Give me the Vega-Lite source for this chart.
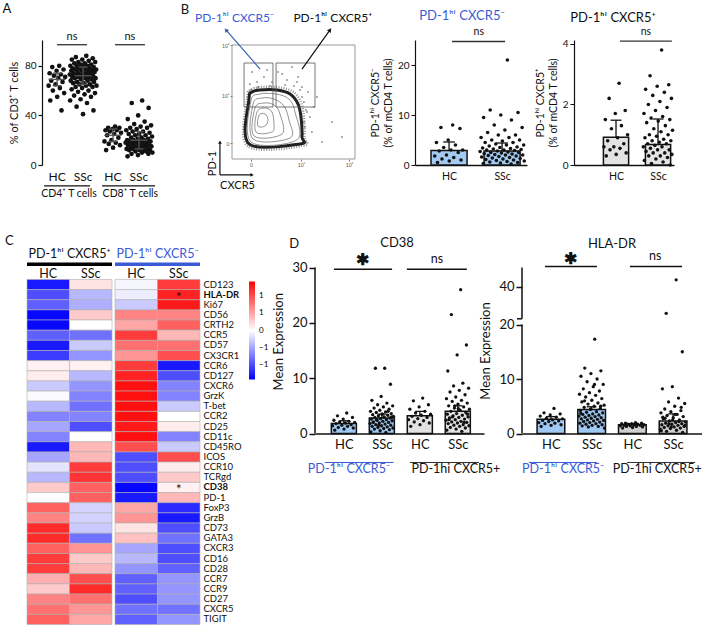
{
"$schema":"https://vega.github.io/schema/vega-lite/v6.json",
"padding":{"left":2,"top":2,"right":0,"bottom":0},
"config":{"font":"Lato","view":{"stroke":null},
 "axis":{"grid":false,"labelColor":"#111","titleColor":"#111","domainColor":"#111","tickColor":"#111","titleFontWeight":"normal","labelFont":"Lato","titleFont":"Lato"},
 "text":{"font":"Lato","color":"#111"},"legend":{"labelFont":"Lato"}},
"datasets":{
"a":[{"t":"4","g":"HC","v":80},{"t":"4","g":"HC","v":79},{"t":"4","g":"HC","v":77},{"t":"4","g":"HC","v":76},{"t":"4","g":"HC","v":74},{"t":"4","g":"HC","v":73},{"t":"4","g":"HC","v":72},{"t":"4","g":"HC","v":71},{"t":"4","g":"HC","v":70},{"t":"4","g":"HC","v":68},{"t":"4","g":"HC","v":67},{"t":"4","g":"HC","v":65},{"t":"4","g":"HC","v":64},{"t":"4","g":"HC","v":62},{"t":"4","g":"HC","v":60},{"t":"4","g":"HC","v":58},{"t":"4","g":"HC","v":55},{"t":"4","g":"HC","v":52},{"t":"4","g":"HC","v":44},
{"t":"4","g":"SSc","v":88},{"t":"4","g":"SSc","v":87},{"t":"4","g":"SSc","v":86},{"t":"4","g":"SSc","v":85},{"t":"4","g":"SSc","v":85},{"t":"4","g":"SSc","v":84},{"t":"4","g":"SSc","v":83},{"t":"4","g":"SSc","v":83},{"t":"4","g":"SSc","v":82},{"t":"4","g":"SSc","v":82},{"t":"4","g":"SSc","v":81},{"t":"4","g":"SSc","v":81},{"t":"4","g":"SSc","v":80},{"t":"4","g":"SSc","v":80},{"t":"4","g":"SSc","v":80},{"t":"4","g":"SSc","v":79},{"t":"4","g":"SSc","v":79},{"t":"4","g":"SSc","v":78},{"t":"4","g":"SSc","v":78},{"t":"4","g":"SSc","v":78},{"t":"4","g":"SSc","v":77},{"t":"4","g":"SSc","v":77},{"t":"4","g":"SSc","v":77},{"t":"4","g":"SSc","v":76},{"t":"4","g":"SSc","v":76},{"t":"4","g":"SSc","v":76},{"t":"4","g":"SSc","v":75},{"t":"4","g":"SSc","v":75},{"t":"4","g":"SSc","v":75},{"t":"4","g":"SSc","v":74},{"t":"4","g":"SSc","v":74},{"t":"4","g":"SSc","v":74},{"t":"4","g":"SSc","v":73},{"t":"4","g":"SSc","v":73},{"t":"4","g":"SSc","v":73},{"t":"4","g":"SSc","v":72},{"t":"4","g":"SSc","v":72},{"t":"4","g":"SSc","v":72},{"t":"4","g":"SSc","v":71},{"t":"4","g":"SSc","v":71},{"t":"4","g":"SSc","v":71},{"t":"4","g":"SSc","v":70},{"t":"4","g":"SSc","v":70},{"t":"4","g":"SSc","v":70},{"t":"4","g":"SSc","v":69},{"t":"4","g":"SSc","v":69},{"t":"4","g":"SSc","v":68},{"t":"4","g":"SSc","v":68},{"t":"4","g":"SSc","v":67},{"t":"4","g":"SSc","v":67},{"t":"4","g":"SSc","v":66},{"t":"4","g":"SSc","v":66},{"t":"4","g":"SSc","v":65},{"t":"4","g":"SSc","v":65},{"t":"4","g":"SSc","v":64},{"t":"4","g":"SSc","v":64},{"t":"4","g":"SSc","v":63},{"t":"4","g":"SSc","v":63},{"t":"4","g":"SSc","v":62},{"t":"4","g":"SSc","v":61},{"t":"4","g":"SSc","v":60},{"t":"4","g":"SSc","v":59},{"t":"4","g":"SSc","v":58},{"t":"4","g":"SSc","v":57},{"t":"4","g":"SSc","v":56},{"t":"4","g":"SSc","v":55},{"t":"4","g":"SSc","v":53},{"t":"4","g":"SSc","v":52},{"t":"4","g":"SSc","v":50},{"t":"4","g":"SSc","v":47},{"t":"4","g":"SSc","v":44},{"t":"4","g":"SSc","v":41},
{"t":"8","g":"HC","v":31},{"t":"8","g":"HC","v":30},{"t":"8","g":"HC","v":30},{"t":"8","g":"HC","v":29},{"t":"8","g":"HC","v":28},{"t":"8","g":"HC","v":28},{"t":"8","g":"HC","v":27},{"t":"8","g":"HC","v":26},{"t":"8","g":"HC","v":25},{"t":"8","g":"HC","v":24},{"t":"8","g":"HC","v":22},{"t":"8","g":"HC","v":20},{"t":"8","g":"HC","v":19},{"t":"8","g":"HC","v":18},{"t":"8","g":"HC","v":17},{"t":"8","g":"HC","v":16},{"t":"8","g":"HC","v":14},{"t":"8","g":"HC","v":12},
{"t":"8","g":"SSc","v":52},{"t":"8","g":"SSc","v":50},{"t":"8","g":"SSc","v":46},{"t":"8","g":"SSc","v":40},{"t":"8","g":"SSc","v":37},{"t":"8","g":"SSc","v":35},{"t":"8","g":"SSc","v":33},{"t":"8","g":"SSc","v":32},{"t":"8","g":"SSc","v":31},{"t":"8","g":"SSc","v":30},{"t":"8","g":"SSc","v":30},{"t":"8","g":"SSc","v":29},{"t":"8","g":"SSc","v":28},{"t":"8","g":"SSc","v":27},{"t":"8","g":"SSc","v":27},{"t":"8","g":"SSc","v":26},{"t":"8","g":"SSc","v":25},{"t":"8","g":"SSc","v":25},{"t":"8","g":"SSc","v":24},{"t":"8","g":"SSc","v":24},{"t":"8","g":"SSc","v":23},{"t":"8","g":"SSc","v":22},{"t":"8","g":"SSc","v":22},{"t":"8","g":"SSc","v":21},{"t":"8","g":"SSc","v":21},{"t":"8","g":"SSc","v":20},{"t":"8","g":"SSc","v":20},{"t":"8","g":"SSc","v":20},{"t":"8","g":"SSc","v":19},{"t":"8","g":"SSc","v":19},{"t":"8","g":"SSc","v":19},{"t":"8","g":"SSc","v":18},{"t":"8","g":"SSc","v":18},{"t":"8","g":"SSc","v":18},{"t":"8","g":"SSc","v":17},{"t":"8","g":"SSc","v":17},{"t":"8","g":"SSc","v":17},{"t":"8","g":"SSc","v":16},{"t":"8","g":"SSc","v":16},{"t":"8","g":"SSc","v":16},{"t":"8","g":"SSc","v":15},{"t":"8","g":"SSc","v":15},{"t":"8","g":"SSc","v":15},{"t":"8","g":"SSc","v":14},{"t":"8","g":"SSc","v":14},{"t":"8","g":"SSc","v":14},{"t":"8","g":"SSc","v":13},{"t":"8","g":"SSc","v":13},{"t":"8","g":"SSc","v":13},{"t":"8","g":"SSc","v":12},{"t":"8","g":"SSc","v":12},{"t":"8","g":"SSc","v":12},{"t":"8","g":"SSc","v":11},{"t":"8","g":"SSc","v":11},{"t":"8","g":"SSc","v":10},{"t":"8","g":"SSc","v":10},{"t":"8","g":"SSc","v":9},{"t":"8","g":"SSc","v":9},{"t":"8","g":"SSc","v":8},{"t":"8","g":"SSc","v":7}],
"as":[{"t":"4","g":"HC","m":69,"lo":64,"hi":74},{"t":"4","g":"SSc","m":72,"lo":65,"hi":79},{"t":"8","g":"HC","m":24,"lo":19,"hi":29},{"t":"8","g":"SSc","m":20,"lo":13,"hi":27}],
"b1":[{"g":"HC","v":8},{"g":"HC","v":7.5},{"g":"HC","v":7.3},{"g":"HC","v":5},{"g":"HC","v":4.5},{"g":"HC","v":4},{"g":"HC","v":3.5},{"g":"HC","v":3},{"g":"HC","v":3},{"g":"HC","v":2.8},{"g":"HC","v":2.5},{"g":"HC","v":2},{"g":"HC","v":1.8},{"g":"HC","v":1.5},{"g":"HC","v":1.2},{"g":"HC","v":1},{"g":"HC","v":0.8},{"g":"HC","v":0.5},
{"g":"SSc","v":21},{"g":"SSc","v":11},{"g":"SSc","v":10.5},{"g":"SSc","v":10},{"g":"SSc","v":9.5},{"g":"SSc","v":9},{"g":"SSc","v":8},{"g":"SSc","v":7.5},{"g":"SSc","v":7},{"g":"SSc","v":6.5},{"g":"SSc","v":6},{"g":"SSc","v":6},{"g":"SSc","v":5.5},{"g":"SSc","v":5.5},{"g":"SSc","v":5},{"g":"SSc","v":5},{"g":"SSc","v":4.8},{"g":"SSc","v":4.5},{"g":"SSc","v":4.5},{"g":"SSc","v":4.2},{"g":"SSc","v":4},{"g":"SSc","v":4},{"g":"SSc","v":3.8},{"g":"SSc","v":3.6},{"g":"SSc","v":3.5},{"g":"SSc","v":3.4},{"g":"SSc","v":3.3},{"g":"SSc","v":3.2},{"g":"SSc","v":3.1},{"g":"SSc","v":3},{"g":"SSc","v":3},{"g":"SSc","v":2.9},{"g":"SSc","v":2.8},{"g":"SSc","v":2.7},{"g":"SSc","v":2.6},{"g":"SSc","v":2.5},{"g":"SSc","v":2.5},{"g":"SSc","v":2.4},{"g":"SSc","v":2.3},{"g":"SSc","v":2.2},{"g":"SSc","v":2.1},{"g":"SSc","v":2},{"g":"SSc","v":2},{"g":"SSc","v":1.9},{"g":"SSc","v":1.8},{"g":"SSc","v":1.7},{"g":"SSc","v":1.6},{"g":"SSc","v":1.5},{"g":"SSc","v":1.4},{"g":"SSc","v":1.3},{"g":"SSc","v":1.2},{"g":"SSc","v":1.1},{"g":"SSc","v":1},{"g":"SSc","v":0.9},{"g":"SSc","v":0.8},{"g":"SSc","v":0.7},{"g":"SSc","v":0.6},{"g":"SSc","v":0.5},{"g":"SSc","v":0.4},{"g":"SSc","v":0.3},{"g":"SSc","v":0.2}],
"b1s":[{"g":"HC","m":2.9,"hi":4.6},{"g":"SSc","m":2.8,"hi":4.4}],
"b2":[{"g":"HC","v":2.7},{"g":"HC","v":2.2},{"g":"HC","v":1.8},{"g":"HC","v":1.7},{"g":"HC","v":1.5},{"g":"HC","v":1.3},{"g":"HC","v":1.2},{"g":"HC","v":1.0},{"g":"HC","v":0.9},{"g":"HC","v":0.8},{"g":"HC","v":0.7},{"g":"HC","v":0.6},{"g":"HC","v":0.6},{"g":"HC","v":0.55},{"g":"HC","v":0.5},{"g":"HC","v":0.4},{"g":"HC","v":0.35},{"g":"HC","v":0.3},
{"g":"SSc","v":3.8},{"g":"SSc","v":2.95},{"g":"SSc","v":2.65},{"g":"SSc","v":2.6},{"g":"SSc","v":2.5},{"g":"SSc","v":2.4},{"g":"SSc","v":2.3},{"g":"SSc","v":2.2},{"g":"SSc","v":2.1},{"g":"SSc","v":2.0},{"g":"SSc","v":1.9},{"g":"SSc","v":1.8},{"g":"SSc","v":1.7},{"g":"SSc","v":1.6},{"g":"SSc","v":1.55},{"g":"SSc","v":1.5},{"g":"SSc","v":1.45},{"g":"SSc","v":1.4},{"g":"SSc","v":1.3},{"g":"SSc","v":1.2},{"g":"SSc","v":1.15},{"g":"SSc","v":1.1},{"g":"SSc","v":1.0},{"g":"SSc","v":1.0},{"g":"SSc","v":0.95},{"g":"SSc","v":0.9},{"g":"SSc","v":0.85},{"g":"SSc","v":0.8},{"g":"SSc","v":0.8},{"g":"SSc","v":0.75},{"g":"SSc","v":0.7},{"g":"SSc","v":0.7},{"g":"SSc","v":0.65},{"g":"SSc","v":0.6},{"g":"SSc","v":0.6},{"g":"SSc","v":0.55},{"g":"SSc","v":0.5},{"g":"SSc","v":0.5},{"g":"SSc","v":0.45},{"g":"SSc","v":0.4},{"g":"SSc","v":0.4},{"g":"SSc","v":0.35},{"g":"SSc","v":0.3},{"g":"SSc","v":0.3},{"g":"SSc","v":0.25},{"g":"SSc","v":0.2},{"g":"SSc","v":0.15},{"g":"SSc","v":0.1},{"g":"SSc","v":0.05},{"g":"SSc","v":0.0}],
"b2s":[{"g":"HC","m":0.92,"hi":1.48},{"g":"SSc","m":0.68,"hi":1.52}],
"fc":[{"c":"0","o":1,"x":13.8,"y":13.2},{"c":"0","o":2,"x":13.8,"y":52.6},{"c":"0","o":3,"x":16.3,"y":58.8},{"c":"0","o":4,"x":22.8,"y":60.5},{"c":"0","o":5,"x":36.6,"y":60.5},{"c":"0","o":6,"x":47.2,"y":57.0},{"c":"0","o":7,"x":53.7,"y":48.2},{"c":"0","o":8,"x":56.1,"y":36.8},{"c":"0","o":9,"x":56.9,"y":19.3},{"c":"0","o":10,"x":55.3,"y":13.2},
{"c":"1","o":1,"x":15.4,"y":14.9},{"c":"1","o":2,"x":15.4,"y":50.9},{"c":"1","o":3,"x":22.8,"y":57.0},{"c":"1","o":4,"x":35.8,"y":57.0},{"c":"1","o":5,"x":46.3,"y":52.6},{"c":"1","o":6,"x":51.2,"y":41.2},{"c":"1","o":7,"x":52.8,"y":16.7},
{"c":"2","o":1,"x":17.1,"y":17.5},{"c":"2","o":2,"x":17.1,"y":48.2},{"c":"2","o":3,"x":24.4,"y":53.5},{"c":"2","o":4,"x":34.1,"y":52.6},{"c":"2","o":5,"x":42.3,"y":46.5},{"c":"2","o":6,"x":46.3,"y":34.2},{"c":"2","o":7,"x":47.2,"y":18.4},
{"c":"3","o":1,"x":17.9,"y":20.2},{"c":"3","o":2,"x":18.7,"y":44.7},{"c":"3","o":3,"x":26.0,"y":49.1},{"c":"3","o":4,"x":34.1,"y":47.4},{"c":"3","o":5,"x":39.0,"y":39.5},{"c":"3","o":6,"x":40.7,"y":21.9},
{"c":"4","o":1,"x":19.5,"y":23.7},{"c":"4","o":2,"x":20.3,"y":41.2},{"c":"4","o":3,"x":26.8,"y":44.7},{"c":"4","o":4,"x":32.5,"y":41.2},{"c":"4","o":5,"x":34.1,"y":30.7},{"c":"4","o":6,"x":32.5,"y":23.7},
{"c":"5","o":1,"x":21.1,"y":28.9},{"c":"5","o":2,"x":22.0,"y":38.6},{"c":"5","o":3,"x":26.8,"y":39.5},{"c":"5","o":4,"x":29.3,"y":34.2},{"c":"5","o":5,"x":26.8,"y":28.9},
{"c":"6","o":1,"x":12.5,"y":11.5},{"c":"6","o":2,"x":12.5,"y":54},{"c":"6","o":3,"x":15.5,"y":61},{"c":"6","o":4,"x":22.8,"y":63},{"c":"6","o":5,"x":37,"y":63},{"c":"6","o":6,"x":49,"y":59.5},{"c":"6","o":7,"x":56,"y":50},{"c":"6","o":8,"x":58.5,"y":37},{"c":"6","o":9,"x":59,"y":19},{"c":"6","o":10,"x":57.5,"y":11.5}],
"fd":[{"x":58.5,"y":50.0},{"x":61.0,"y":41.2},{"x":59.3,"y":28.1},{"x":61.8,"y":58.8},{"x":52.8,"y":67.5},{"x":44.7,"y":69.3},{"x":32.5,"y":67.5},{"x":26.0,"y":71.9},{"x":20.3,"y":67.5},{"x":16.3,"y":76.3},{"x":40.7,"y":74.6},{"x":56.9,"y":63.2},{"x":65.0,"y":23.7},{"x":73.2,"y":14.9},{"x":81.3,"y":32.5},{"x":89.4,"y":19.3},{"x":69.1,"y":54.4},{"x":48.8,"y":80.7},{"x":28.5,"y":78.1},{"x":14.6,"y":65.8},{"x":63.4,"y":36.8},{"x":60.2,"y":14.9},{"x":66.7,"y":45.6},{"x":53.7,"y":71.9},{"x":37.4,"y":76.3},{"x":56.9,"y":54.4},{"x":55.3,"y":60.5},{"x":50.4,"y":64.0},{"x":43.1,"y":64.9},{"x":30.9,"y":64.0},{"x":21.1,"y":63.2},{"x":15.4,"y":60.5},{"x":58.5,"y":32.5},{"x":57.7,"y":21.9},{"x":60.2,"y":43.0}],
"fg":[{"n":"neg","x1":9.8,"x2":33.3,"y1":45.6,"y2":84.2},{"n":"pos","x1":35.8,"x2":67.5,"y1":45.6,"y2":84.2}],
"hm":[
{"m":"CD123","c":"p","g":"HC","v":-1.3},{"m":"CD123","c":"p","g":"SSc","v":0.15},{"m":"CD123","c":"n","g":"HC","v":-0.05},{"m":"CD123","c":"n","g":"SSc","v":1.1},
{"m":"HLA-DR","c":"p","g":"HC","v":-1.0},{"m":"HLA-DR","c":"p","g":"SSc","v":-0.4},{"m":"HLA-DR","c":"n","g":"HC","v":-0.1},{"m":"HLA-DR","c":"n","g":"SSc","v":1.25,"s":"*"},
{"m":"Ki67","c":"p","g":"HC","v":-0.9},{"m":"Ki67","c":"p","g":"SSc","v":-0.45},{"m":"Ki67","c":"n","g":"HC","v":-0.3},{"m":"Ki67","c":"n","g":"SSc","v":1.3},
{"m":"CD56","c":"p","g":"HC","v":-1.4},{"m":"CD56","c":"p","g":"SSc","v":0.3},{"m":"CD56","c":"n","g":"HC","v":0.7},{"m":"CD56","c":"n","g":"SSc","v":0.7},
{"m":"CRTH2","c":"p","g":"HC","v":-1.4},{"m":"CRTH2","c":"p","g":"SSc","v":0.0},{"m":"CRTH2","c":"n","g":"HC","v":0.5},{"m":"CRTH2","c":"n","g":"SSc","v":0.9},
{"m":"CCR5","c":"p","g":"HC","v":-0.9},{"m":"CCR5","c":"p","g":"SSc","v":-0.8},{"m":"CCR5","c":"n","g":"HC","v":1.1},{"m":"CCR5","c":"n","g":"SSc","v":0.4},
{"m":"CD57","c":"p","g":"HC","v":-1.3},{"m":"CD57","c":"p","g":"SSc","v":-0.3},{"m":"CD57","c":"n","g":"HC","v":0.8},{"m":"CD57","c":"n","g":"SSc","v":0.8},
{"m":"CX3CR1","c":"p","g":"HC","v":-1.1},{"m":"CX3CR1","c":"p","g":"SSc","v":-0.6},{"m":"CX3CR1","c":"n","g":"HC","v":0.6},{"m":"CX3CR1","c":"n","g":"SSc","v":1.0},
{"m":"CCR6","c":"p","g":"HC","v":0.08},{"m":"CCR6","c":"p","g":"SSc","v":0.08},{"m":"CCR6","c":"n","g":"HC","v":1.1},{"m":"CCR6","c":"n","g":"SSc","v":-1.3},
{"m":"CD127","c":"p","g":"HC","v":0.1},{"m":"CD127","c":"p","g":"SSc","v":-0.4},{"m":"CD127","c":"n","g":"HC","v":1.25},{"m":"CD127","c":"n","g":"SSc","v":-1.0},
{"m":"CXCR6","c":"p","g":"HC","v":-0.3},{"m":"CXCR6","c":"p","g":"SSc","v":-0.6},{"m":"CXCR6","c":"n","g":"HC","v":1.35},{"m":"CXCR6","c":"n","g":"SSc","v":-0.7},
{"m":"GrzK","c":"p","g":"HC","v":-0.02},{"m":"GrzK","c":"p","g":"SSc","v":-0.7},{"m":"GrzK","c":"n","g":"HC","v":1.35},{"m":"GrzK","c":"n","g":"SSc","v":-0.7},
{"m":"T-bet","c":"p","g":"HC","v":-0.4},{"m":"T-bet","c":"p","g":"SSc","v":-0.8},{"m":"T-bet","c":"n","g":"HC","v":1.35},{"m":"T-bet","c":"n","g":"SSc","v":-0.3},
{"m":"CCR2","c":"p","g":"HC","v":-0.7},{"m":"CCR2","c":"p","g":"SSc","v":-0.7},{"m":"CCR2","c":"n","g":"HC","v":1.35},{"m":"CCR2","c":"n","g":"SSc","v":0.0},
{"m":"CD25","c":"p","g":"HC","v":-0.5},{"m":"CD25","c":"p","g":"SSc","v":-1.0},{"m":"CD25","c":"n","g":"HC","v":1.3},{"m":"CD25","c":"n","g":"SSc","v":0.1},
{"m":"CD11c","c":"p","g":"HC","v":-0.7},{"m":"CD11c","c":"p","g":"SSc","v":0.0},{"m":"CD11c","c":"n","g":"HC","v":1.35},{"m":"CD11c","c":"n","g":"SSc","v":-0.7},
{"m":"CD45RO","c":"p","g":"HC","v":-1.3},{"m":"CD45RO","c":"p","g":"SSc","v":0.4},{"m":"CD45RO","c":"n","g":"HC","v":1.0},{"m":"CD45RO","c":"n","g":"SSc","v":-0.3},
{"m":"ICOS","c":"p","g":"HC","v":-0.5},{"m":"ICOS","c":"p","g":"SSc","v":0.4},{"m":"ICOS","c":"n","g":"HC","v":-1.0},{"m":"ICOS","c":"n","g":"SSc","v":1.0},
{"m":"CCR10","c":"p","g":"HC","v":-0.15},{"m":"CCR10","c":"p","g":"SSc","v":1.1},{"m":"CCR10","c":"n","g":"HC","v":-1.0},{"m":"CCR10","c":"n","g":"SSc","v":0.1},
{"m":"TCRgd","c":"p","g":"HC","v":-0.4},{"m":"TCRgd","c":"p","g":"SSc","v":1.15},{"m":"TCRgd","c":"n","g":"HC","v":-1.0},{"m":"TCRgd","c":"n","g":"SSc","v":0.3},
{"m":"CD38","c":"p","g":"HC","v":0.3},{"m":"CD38","c":"p","g":"SSc","v":0.9},{"m":"CD38","c":"n","g":"HC","v":-1.4},{"m":"CD38","c":"n","g":"SSc","v":0.08,"s":"*"},
{"m":"PD-1","c":"p","g":"HC","v":0.0},{"m":"PD-1","c":"p","g":"SSc","v":0.9},{"m":"PD-1","c":"n","g":"HC","v":-1.3},{"m":"PD-1","c":"n","g":"SSc","v":0.4},
{"m":"FoxP3","c":"p","g":"HC","v":0.9},{"m":"FoxP3","c":"p","g":"SSc","v":-0.25},{"m":"FoxP3","c":"n","g":"HC","v":0.5},{"m":"FoxP3","c":"n","g":"SSc","v":-1.2},
{"m":"GrzB","c":"p","g":"HC","v":0.7},{"m":"GrzB","c":"p","g":"SSc","v":-0.25},{"m":"GrzB","c":"n","g":"HC","v":0.6},{"m":"GrzB","c":"n","g":"SSc","v":-1.3},
{"m":"CD73","c":"p","g":"HC","v":1.2},{"m":"CD73","c":"p","g":"SSc","v":-0.3},{"m":"CD73","c":"n","g":"HC","v":0.15},{"m":"CD73","c":"n","g":"SSc","v":-1.0},
{"m":"GATA3","c":"p","g":"HC","v":1.2},{"m":"GATA3","c":"p","g":"SSc","v":-0.8},{"m":"GATA3","c":"n","g":"HC","v":0.35},{"m":"GATA3","c":"n","g":"SSc","v":-0.8},
{"m":"CXCR3","c":"p","g":"HC","v":0.9},{"m":"CXCR3","c":"p","g":"SSc","v":0.6},{"m":"CXCR3","c":"n","g":"HC","v":-0.5},{"m":"CXCR3","c":"n","g":"SSc","v":-1.0},
{"m":"CD16","c":"p","g":"HC","v":1.1},{"m":"CD16","c":"p","g":"SSc","v":0.3},{"m":"CD16","c":"n","g":"HC","v":-0.4},{"m":"CD16","c":"n","g":"SSc","v":-1.0},
{"m":"CD28","c":"p","g":"HC","v":1.1},{"m":"CD28","c":"p","g":"SSc","v":0.4},{"m":"CD28","c":"n","g":"HC","v":-0.6},{"m":"CD28","c":"n","g":"SSc","v":-0.9},
{"m":"CCR7","c":"p","g":"HC","v":0.45},{"m":"CCR7","c":"p","g":"SSc","v":1.0},{"m":"CCR7","c":"n","g":"HC","v":-0.9},{"m":"CCR7","c":"n","g":"SSc","v":-0.6},
{"m":"CCR9","c":"p","g":"HC","v":0.3},{"m":"CCR9","c":"p","g":"SSc","v":1.2},{"m":"CCR9","c":"n","g":"HC","v":-0.9},{"m":"CCR9","c":"n","g":"SSc","v":-0.6},
{"m":"CD27","c":"p","g":"HC","v":0.7},{"m":"CD27","c":"p","g":"SSc","v":0.8},{"m":"CD27","c":"n","g":"HC","v":-1.0},{"m":"CD27","c":"n","g":"SSc","v":-0.6},
{"m":"CXCR5","c":"p","g":"HC","v":0.8},{"m":"CXCR5","c":"p","g":"SSc","v":0.6},{"m":"CXCR5","c":"n","g":"HC","v":-0.8},{"m":"CXCR5","c":"n","g":"SSc","v":-0.8},
{"m":"TIGIT","c":"p","g":"HC","v":0.9},{"m":"TIGIT","c":"p","g":"SSc","v":0.5},{"m":"TIGIT","c":"n","g":"HC","v":-0.9},{"m":"TIGIT","c":"n","g":"SSc","v":-0.6}],
"d1":[{"c":"n","g":"HC","v":3.7},{"c":"n","g":"HC","v":3.2},{"c":"n","g":"HC","v":2.9},{"c":"n","g":"HC","v":2.6},{"c":"n","g":"HC","v":2.4},{"c":"n","g":"HC","v":2.2},{"c":"n","g":"HC","v":2.1},{"c":"n","g":"HC","v":2.0},{"c":"n","g":"HC","v":1.9},{"c":"n","g":"HC","v":1.8},{"c":"n","g":"HC","v":1.6},{"c":"n","g":"HC","v":1.5},{"c":"n","g":"HC","v":1.4},{"c":"n","g":"HC","v":1.3},{"c":"n","g":"HC","v":1.1},{"c":"n","g":"HC","v":1.0},{"c":"n","g":"HC","v":0.8},{"c":"n","g":"HC","v":0.6},
{"c":"n","g":"SSc","v":11.8},{"c":"n","g":"SSc","v":11.8},{"c":"n","g":"SSc","v":8.9},{"c":"n","g":"SSc","v":6.7},{"c":"n","g":"SSc","v":6.0},{"c":"n","g":"SSc","v":5.5},{"c":"n","g":"SSc","v":5.2},{"c":"n","g":"SSc","v":5.0},{"c":"n","g":"SSc","v":4.8},{"c":"n","g":"SSc","v":4.6},{"c":"n","g":"SSc","v":4.4},{"c":"n","g":"SSc","v":4.2},{"c":"n","g":"SSc","v":4.0},{"c":"n","g":"SSc","v":3.9},{"c":"n","g":"SSc","v":3.8},{"c":"n","g":"SSc","v":3.6},{"c":"n","g":"SSc","v":3.5},{"c":"n","g":"SSc","v":3.4},{"c":"n","g":"SSc","v":3.3},{"c":"n","g":"SSc","v":3.2},{"c":"n","g":"SSc","v":3.1},{"c":"n","g":"SSc","v":3.0},{"c":"n","g":"SSc","v":2.9},{"c":"n","g":"SSc","v":2.8},{"c":"n","g":"SSc","v":2.7},{"c":"n","g":"SSc","v":2.6},{"c":"n","g":"SSc","v":2.5},{"c":"n","g":"SSc","v":2.4},{"c":"n","g":"SSc","v":2.3},{"c":"n","g":"SSc","v":2.2},{"c":"n","g":"SSc","v":2.1},{"c":"n","g":"SSc","v":2.0},{"c":"n","g":"SSc","v":1.9},{"c":"n","g":"SSc","v":1.8},{"c":"n","g":"SSc","v":1.7},{"c":"n","g":"SSc","v":1.6},{"c":"n","g":"SSc","v":1.5},{"c":"n","g":"SSc","v":1.4},{"c":"n","g":"SSc","v":1.3},{"c":"n","g":"SSc","v":1.2},{"c":"n","g":"SSc","v":1.1},{"c":"n","g":"SSc","v":1.0},{"c":"n","g":"SSc","v":0.9},{"c":"n","g":"SSc","v":0.8},{"c":"n","g":"SSc","v":0.7},{"c":"n","g":"SSc","v":0.5},{"c":"n","g":"SSc","v":0.3},{"c":"n","g":"SSc","v":0.2},{"c":"n","g":"SSc","v":2.5},{"c":"n","g":"SSc","v":3.0},{"c":"n","g":"SSc","v":3.5},{"c":"n","g":"SSc","v":2.0},{"c":"n","g":"SSc","v":4.0},{"c":"n","g":"SSc","v":1.5},
{"c":"p","g":"HC","v":6.4},{"c":"p","g":"HC","v":5.9},{"c":"p","g":"HC","v":5.2},{"c":"p","g":"HC","v":4.8},{"c":"p","g":"HC","v":4.4},{"c":"p","g":"HC","v":4.0},{"c":"p","g":"HC","v":3.7},{"c":"p","g":"HC","v":3.5},{"c":"p","g":"HC","v":3.3},{"c":"p","g":"HC","v":3.1},{"c":"p","g":"HC","v":2.9},{"c":"p","g":"HC","v":2.7},{"c":"p","g":"HC","v":2.5},{"c":"p","g":"HC","v":2.3},{"c":"p","g":"HC","v":2.1},{"c":"p","g":"HC","v":1.9},{"c":"p","g":"HC","v":1.6},{"c":"p","g":"HC","v":1.3},
{"c":"p","g":"SSc","v":26},{"c":"p","g":"SSc","v":21.5},{"c":"p","g":"SSc","v":16},{"c":"p","g":"SSc","v":14.2},{"c":"p","g":"SSc","v":11.3},{"c":"p","g":"SSc","v":9.1},{"c":"p","g":"SSc","v":8.6},{"c":"p","g":"SSc","v":8.2},{"c":"p","g":"SSc","v":7.8},{"c":"p","g":"SSc","v":7.5},{"c":"p","g":"SSc","v":7.0},{"c":"p","g":"SSc","v":6.6},{"c":"p","g":"SSc","v":6.3},{"c":"p","g":"SSc","v":6.0},{"c":"p","g":"SSc","v":5.8},{"c":"p","g":"SSc","v":5.5},{"c":"p","g":"SSc","v":5.3},{"c":"p","g":"SSc","v":5.0},{"c":"p","g":"SSc","v":4.8},{"c":"p","g":"SSc","v":4.6},{"c":"p","g":"SSc","v":4.4},{"c":"p","g":"SSc","v":4.2},{"c":"p","g":"SSc","v":4.0},{"c":"p","g":"SSc","v":3.8},{"c":"p","g":"SSc","v":3.6},{"c":"p","g":"SSc","v":3.5},{"c":"p","g":"SSc","v":3.3},{"c":"p","g":"SSc","v":3.2},{"c":"p","g":"SSc","v":3.0},{"c":"p","g":"SSc","v":2.9},{"c":"p","g":"SSc","v":2.8},{"c":"p","g":"SSc","v":2.6},{"c":"p","g":"SSc","v":2.5},{"c":"p","g":"SSc","v":2.4},{"c":"p","g":"SSc","v":2.2},{"c":"p","g":"SSc","v":2.1},{"c":"p","g":"SSc","v":2.0},{"c":"p","g":"SSc","v":1.9},{"c":"p","g":"SSc","v":1.8},{"c":"p","g":"SSc","v":1.6},{"c":"p","g":"SSc","v":1.5},{"c":"p","g":"SSc","v":1.4},{"c":"p","g":"SSc","v":1.3},{"c":"p","g":"SSc","v":1.1},{"c":"p","g":"SSc","v":1.0},{"c":"p","g":"SSc","v":0.8},{"c":"p","g":"SSc","v":0.6},{"c":"p","g":"SSc","v":0.4},{"c":"p","g":"SSc","v":3.0},{"c":"p","g":"SSc","v":3.5},{"c":"p","g":"SSc","v":4.5},{"c":"p","g":"SSc","v":2.5},{"c":"p","g":"SSc","v":2.0},{"c":"p","g":"SSc","v":5.0}],
"d1s":[{"c":"n","g":"HC","m":1.8,"hi":2.3},{"c":"n","g":"SSc","m":2.8,"hi":3.5},{"c":"p","g":"HC","m":3.2,"hi":4.0},{"c":"p","g":"SSc","m":4.0,"hi":5.0}],
"d2":[{"c":"n","g":"HC","v":4.6},{"c":"n","g":"HC","v":3.8},{"c":"n","g":"HC","v":3.6},{"c":"n","g":"HC","v":3.4},{"c":"n","g":"HC","v":3.2},{"c":"n","g":"HC","v":3.0},{"c":"n","g":"HC","v":2.8},{"c":"n","g":"HC","v":2.7},{"c":"n","g":"HC","v":2.5},{"c":"n","g":"HC","v":2.4},{"c":"n","g":"HC","v":2.3},{"c":"n","g":"HC","v":2.2},{"c":"n","g":"HC","v":2.0},{"c":"n","g":"HC","v":1.9},{"c":"n","g":"HC","v":1.8},{"c":"n","g":"HC","v":1.6},{"c":"n","g":"HC","v":1.5},{"c":"n","g":"HC","v":1.3},
{"c":"n","g":"SSc","v":17.3},{"c":"n","g":"SSc","v":12},{"c":"n","g":"SSc","v":11.5},{"c":"n","g":"SSc","v":11},{"c":"n","g":"SSc","v":10.5},{"c":"n","g":"SSc","v":10},{"c":"n","g":"SSc","v":9.5},{"c":"n","g":"SSc","v":9},{"c":"n","g":"SSc","v":8.6},{"c":"n","g":"SSc","v":8.2},{"c":"n","g":"SSc","v":7.8},{"c":"n","g":"SSc","v":7.5},{"c":"n","g":"SSc","v":7.2},{"c":"n","g":"SSc","v":7.0},{"c":"n","g":"SSc","v":6.7},{"c":"n","g":"SSc","v":6.4},{"c":"n","g":"SSc","v":6.1},{"c":"n","g":"SSc","v":5.8},{"c":"n","g":"SSc","v":5.6},{"c":"n","g":"SSc","v":5.4},{"c":"n","g":"SSc","v":5.2},{"c":"n","g":"SSc","v":5.0},{"c":"n","g":"SSc","v":4.8},{"c":"n","g":"SSc","v":4.6},{"c":"n","g":"SSc","v":4.4},{"c":"n","g":"SSc","v":4.2},{"c":"n","g":"SSc","v":4.0},{"c":"n","g":"SSc","v":3.9},{"c":"n","g":"SSc","v":3.8},{"c":"n","g":"SSc","v":3.6},{"c":"n","g":"SSc","v":3.5},{"c":"n","g":"SSc","v":3.4},{"c":"n","g":"SSc","v":3.3},{"c":"n","g":"SSc","v":3.2},{"c":"n","g":"SSc","v":3.1},{"c":"n","g":"SSc","v":3.0},{"c":"n","g":"SSc","v":2.9},{"c":"n","g":"SSc","v":2.8},{"c":"n","g":"SSc","v":2.7},{"c":"n","g":"SSc","v":2.6},{"c":"n","g":"SSc","v":2.5},{"c":"n","g":"SSc","v":2.4},{"c":"n","g":"SSc","v":2.3},{"c":"n","g":"SSc","v":2.2},{"c":"n","g":"SSc","v":2.1},{"c":"n","g":"SSc","v":2.0},{"c":"n","g":"SSc","v":1.9},{"c":"n","g":"SSc","v":1.8},{"c":"n","g":"SSc","v":1.7},{"c":"n","g":"SSc","v":1.6},{"c":"n","g":"SSc","v":1.5},{"c":"n","g":"SSc","v":1.4},{"c":"n","g":"SSc","v":1.3},{"c":"n","g":"SSc","v":1.2},{"c":"n","g":"SSc","v":1.0},{"c":"n","g":"SSc","v":9.0},{"c":"n","g":"SSc","v":6.0},{"c":"n","g":"SSc","v":5.0},{"c":"n","g":"SSc","v":4.5},{"c":"n","g":"SSc","v":3.7},
{"c":"p","g":"HC","v":2.0},{"c":"p","g":"HC","v":1.9},{"c":"p","g":"HC","v":1.9},{"c":"p","g":"HC","v":1.8},{"c":"p","g":"HC","v":1.8},{"c":"p","g":"HC","v":1.7},{"c":"p","g":"HC","v":1.7},{"c":"p","g":"HC","v":1.6},{"c":"p","g":"HC","v":1.6},{"c":"p","g":"HC","v":1.5},{"c":"p","g":"HC","v":1.5},{"c":"p","g":"HC","v":1.4},{"c":"p","g":"HC","v":1.4},{"c":"p","g":"HC","v":1.3},{"c":"p","g":"HC","v":1.3},{"c":"p","g":"HC","v":1.2},{"c":"p","g":"HC","v":1.1},{"c":"p","g":"HC","v":1.0},
{"c":"p","g":"SSc","v":43.5},{"c":"p","g":"SSc","v":25.9},{"c":"p","g":"SSc","v":15},{"c":"p","g":"SSc","v":8.6},{"c":"p","g":"SSc","v":8.2},{"c":"p","g":"SSc","v":6.5},{"c":"p","g":"SSc","v":5.8},{"c":"p","g":"SSc","v":5.5},{"c":"p","g":"SSc","v":5},{"c":"p","g":"SSc","v":4.5},{"c":"p","g":"SSc","v":4.2},{"c":"p","g":"SSc","v":4.0},{"c":"p","g":"SSc","v":3.8},{"c":"p","g":"SSc","v":3.5},{"c":"p","g":"SSc","v":3.3},{"c":"p","g":"SSc","v":3.1},{"c":"p","g":"SSc","v":2.9},{"c":"p","g":"SSc","v":2.7},{"c":"p","g":"SSc","v":2.5},{"c":"p","g":"SSc","v":2.3},{"c":"p","g":"SSc","v":2.1},{"c":"p","g":"SSc","v":2.0},{"c":"p","g":"SSc","v":1.9},{"c":"p","g":"SSc","v":1.8},{"c":"p","g":"SSc","v":1.7},{"c":"p","g":"SSc","v":1.6},{"c":"p","g":"SSc","v":1.5},{"c":"p","g":"SSc","v":1.4},{"c":"p","g":"SSc","v":1.3},{"c":"p","g":"SSc","v":1.2},{"c":"p","g":"SSc","v":1.1},{"c":"p","g":"SSc","v":1.0},{"c":"p","g":"SSc","v":0.9},{"c":"p","g":"SSc","v":0.8},{"c":"p","g":"SSc","v":0.6},{"c":"p","g":"SSc","v":0.4},{"c":"p","g":"SSc","v":0.2},{"c":"p","g":"SSc","v":2.5},{"c":"p","g":"SSc","v":3.0},{"c":"p","g":"SSc","v":2.2},{"c":"p","g":"SSc","v":1.8},{"c":"p","g":"SSc","v":1.5},{"c":"p","g":"SSc","v":3.5},{"c":"p","g":"SSc","v":2.8},{"c":"p","g":"SSc","v":4.8},{"c":"p","g":"SSc","v":1.2},{"c":"p","g":"SSc","v":0.5}],
"d2s":[{"c":"n","g":"HC","m":2.6,"hi":3.1},{"c":"n","g":"SSc","m":4.4,"hi":4.9},{"c":"p","g":"HC","m":1.6,"hi":1.8},{"c":"p","g":"SSc","m":2.3,"hi":3.6}]
},
"spacing":34,
"vconcat":[
{"hconcat":[
 {"width":15,"height":1,"data":{"values":[]},"mark":"point"},
 {"width":118,"height":125,
  "layer":[
   {"data":{"name":"a"},
    "transform":[{"window":[{"op":"row_number","as":"rn"}],"groupby":["t","g"]},
     {"calculate":"(datum.t=='4'?0:2.15)+(datum.g=='HC'?1:2)+((datum.rn*0.618034)%1-0.5)*(datum.g=='HC'?0.7:1.05)","as":"xj"}],
    "mark":{"type":"circle","size":22,"color":"#111","opacity":1},
    "encoding":{
     "x":{"field":"xj","type":"quantitative","scale":{"domain":[0.42,4.96],"nice":false,"zero":false},"axis":{"title":null,"labels":false,"domain":false,"ticks":false}},
     "y":{"field":"v","type":"quantitative","scale":{"domain":[0,100.8],"nice":false,"zero":false},"axis":{"title":"% of CD3⁺ T cells","values":[0,20,40,60,80,100],"labelFontSize":10,"titleFontSize":11,"tickSize":4,"domainWidth":1.2,"tickWidth":1.2,"titlePadding":5}}}},
   {"data":{"name":"as"},
    "transform":[{"calculate":"(datum.t=='4'?0:2.15)+(datum.g=='HC'?1:2)","as":"p"},{"calculate":"datum.p-0.33","as":"p1"},{"calculate":"datum.p+0.33","as":"p2"},{"calculate":"datum.p-0.17","as":"c1"},{"calculate":"datum.p+0.17","as":"c2"}],
    "layer":[
     {"mark":{"type":"rule","color":"#555","strokeWidth":1.3},"encoding":{"x":{"field":"p1","type":"quantitative"},"x2":{"field":"p2"},"y":{"field":"m","type":"quantitative"}}},
     {"mark":{"type":"rule","color":"#555","strokeWidth":1.3},"encoding":{"x":{"field":"p","type":"quantitative"},"y":{"field":"lo","type":"quantitative"},"y2":{"field":"hi"}}},
     {"mark":{"type":"rule","color":"#555","strokeWidth":1.3},"encoding":{"x":{"field":"c1","type":"quantitative"},"x2":{"field":"c2"},"y":{"field":"hi","type":"quantitative"}}},
     {"mark":{"type":"rule","color":"#555","strokeWidth":1.3},"encoding":{"x":{"field":"c1","type":"quantitative"},"x2":{"field":"c2"},"y":{"field":"lo","type":"quantitative"}}}]},
   {"data":{"values":[{}]},
    "layer":[
     {"mark":{"type":"rule","color":"#333","strokeWidth":1.3},"encoding":{"x":{"datum":1.0},"x2":{"datum":2.15},"y":{"datum":97}}},
     {"mark":{"type":"rule","color":"#333","strokeWidth":1.3},"encoding":{"x":{"datum":3.23},"x2":{"datum":4.38},"y":{"datum":97}}},
     {"mark":{"type":"text","text":"ns","fontSize":11},"encoding":{"x":{"datum":1.575},"y":{"datum":103.6}}},
     {"mark":{"type":"text","text":"ns","fontSize":11},"encoding":{"x":{"datum":3.8},"y":{"datum":103.6}}},
     {"mark":{"type":"text","text":"HC","fontSize":12},"encoding":{"x":{"datum":1.0},"y":{"datum":-9.7}}},
     {"mark":{"type":"text","text":"SSc","fontSize":12},"encoding":{"x":{"datum":2.0},"y":{"datum":-9.7}}},
     {"mark":{"type":"text","text":"HC","fontSize":12},"encoding":{"x":{"datum":3.15},"y":{"datum":-9.7}}},
     {"mark":{"type":"text","text":"SSc","fontSize":12},"encoding":{"x":{"datum":4.15},"y":{"datum":-9.7}}},
     {"mark":{"type":"rule","color":"#111","strokeWidth":1.3},"encoding":{"x":{"datum":0.5},"x2":{"datum":2.27},"y":{"datum":-16.9}}},
     {"mark":{"type":"rule","color":"#111","strokeWidth":1.3},"encoding":{"x":{"datum":2.73},"x2":{"datum":4.77},"y":{"datum":-16.9}}},
     {"mark":{"type":"text","text":"CD4⁺ T cells","fontSize":10.5},"encoding":{"x":{"datum":1.46},"y":{"datum":-23.4}}},
     {"mark":{"type":"text","text":"CD8⁺ T cells","fontSize":10.5},"encoding":{"x":{"datum":3.82},"y":{"datum":-23.4}}},
     {"mark":{"type":"text","text":"A","fontSize":13},"encoding":{"x":{"datum":-0.93},"y":{"datum":126.2}}}]}
  ]},
 {"width":72,"height":1,"data":{"values":[]},"mark":"point"},
 {"width":123,"height":125,
  "layer":[
   {"data":{"values":[{}]},"mark":{"type":"rect","fill":"transparent","stroke":"#999","strokeWidth":1},
    "encoding":{
     "x":{"datum":0,"type":"quantitative","scale":{"domain":[0,100],"nice":false,"zero":false},"axis":{"title":"CXCR5","values":[15.4,31.7,56.1,78.9,95.1],"labelExpr":"datum.value<20?'0':datum.value<40?'10¹':datum.value<60?'10²':datum.value<85?'10³':'10⁴'","labelFontSize":5,"labelColor":"#555","tickSize":2,"tickColor":"#777","domain":false,"offset":-6,"labelPadding":1,"titleFontSize":11,"titleX":5,"titleY":26,"titleAlign":"center","titleBaseline":"middle"}},
     "x2":{"datum":100},
     "y":{"datum":0,"type":"quantitative","scale":{"domain":[-5.26,104.39],"nice":false,"zero":false},"axis":{"title":"PD-1","values":[14,35.1,55.3,77.2,100],"labelExpr":"datum.value<20?'0':datum.value<40?'10¹':datum.value<60?'10²':datum.value<85?'10³':'10⁴'","labelFontSize":5,"labelColor":"#555","tickSize":2,"tickColor":"#777","domain":false,"labelPadding":1,"titleFontSize":11,"titleX":-20,"titleY":123,"titleAngle":-90,"titleAlign":"center","titleBaseline":"middle"}},
     "y2":{"datum":100}}},
   {"data":{"name":"fc"},"transform":[{"filter":"datum.c=='6'"}],"mark":{"type":"line","interpolate":"cardinal-closed","color":"#333","strokeWidth":2.5,"opacity":0.55,"strokeDash":[1,1.5]},"encoding":{"x":{"field":"x","type":"quantitative"},"y":{"field":"y","type":"quantitative"},"order":{"field":"o"}}},
   {"data":{"name":"fc"},"transform":[{"filter":"datum.c=='0'"}],"mark":{"type":"line","interpolate":"cardinal-closed","color":"#222","strokeWidth":3},"encoding":{"x":{"field":"x","type":"quantitative"},"y":{"field":"y","type":"quantitative"},"order":{"field":"o"}}},
   {"data":{"name":"fc"},"transform":[{"filter":"datum.c!='0'&&datum.c!='6'"}],"mark":{"type":"line","interpolate":"cardinal-closed","color":"#777","strokeWidth":0.8},"encoding":{"x":{"field":"x","type":"quantitative"},"y":{"field":"y","type":"quantitative"},"detail":{"field":"c"},"order":{"field":"o"}}},
   {"data":{"name":"fd"},"mark":{"type":"circle","size":2,"color":"#333","opacity":1},"encoding":{"x":{"field":"x","type":"quantitative"},"y":{"field":"y","type":"quantitative"}}},
   {"data":{"name":"fg"},"mark":{"type":"rect","fill":"transparent","stroke":"#555","strokeWidth":0.8},"encoding":{"x":{"field":"x1","type":"quantitative"},"x2":{"field":"x2"},"y":{"field":"y1","type":"quantitative"},"y2":{"field":"y2"}}},
   {"data":{"values":[{}]},
    "layer":[
     {"mark":{"type":"rule","color":"#3a5fb5","strokeWidth":1.2},"encoding":{"x":{"datum":22.8},"x2":{"datum":-4.9},"y":{"datum":78.9},"y2":{"datum":113.2}}},
     {"mark":{"type":"point","shape":"triangle-up","filled":true,"size":22,"color":"#3a5fb5","opacity":1,"angle":-41},"encoding":{"x":{"datum":-4.9},"y":{"datum":113.2}}},
     {"mark":{"type":"rule","color":"#111","strokeWidth":1.2},"encoding":{"x":{"datum":56.9},"x2":{"datum":79.7},"y":{"datum":78.9},"y2":{"datum":113.2}}},
     {"mark":{"type":"point","shape":"triangle-up","filled":true,"size":22,"color":"#111","opacity":1,"angle":36},"encoding":{"x":{"datum":79.7},"y":{"datum":113.2}}},
     {"mark":{"type":"rule","color":"#111","strokeWidth":1.2},"encoding":{"x":{"datum":-9.8},"y":{"datum":-14.0},"y2":{"datum":14.9}}},
     {"mark":{"type":"rule","color":"#111","strokeWidth":1.2},"encoding":{"x":{"datum":-9.8},"x2":{"datum":16.3},"y":{"datum":-14.0}}},
     {"mark":{"type":"point","shape":"triangle-up","filled":true,"size":14,"color":"#111","opacity":1},"encoding":{"x":{"datum":-9.8},"y":{"datum":14.9}}},
     {"mark":{"type":"point","shape":"triangle-right","filled":true,"size":14,"color":"#111","opacity":1},"encoding":{"x":{"datum":16.3},"y":{"datum":-14.0}}},
     {"mark":{"type":"text","text":"PD-1ʰⁱ CXCR5⁻","fontSize":12,"color":"#3b5bd6"},"encoding":{"x":{"datum":2.0},"y":{"datum":123.7}}},
     {"mark":{"type":"text","text":"PD-1ʰⁱ CXCR5⁺","fontSize":12},"encoding":{"x":{"datum":82},"y":{"datum":123.7}}},
     {"mark":{"type":"text","text":"B","fontSize":13},"encoding":{"x":{"datum":-38.2},"y":{"datum":130.3}}}]}
  ]},
 {"width":60,"height":1,"data":{"values":[]},"mark":"point"},
 {"width":112,"height":125,
  "layer":[
   {"data":{"name":"b1s"},"transform":[{"calculate":"datum.g=='HC'?1:2","as":"p"},{"calculate":"datum.p-0.34","as":"p1"},{"calculate":"datum.p+0.34","as":"p2"}],
    "mark":{"type":"rect","fill":"#a3cbf2","stroke":"#111","strokeWidth":1.5},
    "encoding":{
     "x":{"field":"p1","type":"quantitative","scale":{"domain":[0.358,2.47],"nice":false,"zero":false},"axis":{"title":null,"values":[1,2],"labelExpr":"datum.value==1?'HC':'SSc'","domainWidth":1.5,"ticks":false,"labelFontSize":10.5,"labelPadding":6}},
     "x2":{"field":"p2"},
     "y":{"field":"m","type":"quantitative","scale":{"domain":[0,25],"nice":false,"zero":false},"axis":{"title":["PD-1ʰⁱ CXCR5⁻","(% of mCD4 T cells)"],"values":[0,5,10,15,20,25],"titleFontSize":10.5,"labelFontSize":10,"tickSize":4,"domainWidth":1.2,"titlePadding":4,"titleLineHeight":13}},
     "y2":{"datum":0}}},
   {"data":{"name":"b1"},"transform":[{"window":[{"op":"row_number","as":"rn"}],"groupby":["g"]},{"calculate":"(datum.g=='HC'?1:2)+((datum.rn*0.618034)%1-0.5)*(datum.g=='HC'?0.58:0.85)","as":"xj"}],
    "mark":{"type":"circle","size":13,"color":"#111","opacity":1},"encoding":{"x":{"field":"xj","type":"quantitative"},"y":{"field":"v","type":"quantitative"}}},
   {"data":{"name":"b1s"},"transform":[{"calculate":"datum.g=='HC'?1:2","as":"p"},{"calculate":"datum.p-0.11","as":"c1"},{"calculate":"datum.p+0.11","as":"c2"}],
    "layer":[
     {"mark":{"type":"rule","color":"#111","strokeWidth":1.3},"encoding":{"x":{"field":"p","type":"quantitative"},"y":{"field":"m","type":"quantitative"},"y2":{"field":"hi"}}},
     {"mark":{"type":"rule","color":"#111","strokeWidth":1.3},"encoding":{"x":{"field":"c1","type":"quantitative"},"x2":{"field":"c2"},"y":{"field":"hi","type":"quantitative"}}}]},
   {"data":{"values":[{}]},
    "layer":[
     {"mark":{"type":"rule","color":"#333","strokeWidth":1.3},"encoding":{"x":{"datum":1.056},"x2":{"datum":2.056},"y":{"datum":24.7}}},
     {"mark":{"type":"text","text":"ns","fontSize":10.5},"encoding":{"x":{"datum":1.56},"y":{"datum":26.6}}},
     {"mark":{"type":"text","text":"PD-1ʰⁱ CXCR5⁻","fontSize":13,"color":"#3b5bd6"},"encoding":{"x":{"datum":1.245},"y":{"datum":29.8}}}]}
  ]},
 {"width":47,"height":1,"data":{"values":[]},"mark":"point"},
 {"width":100,"height":125,
  "layer":[
   {"data":{"name":"b2s"},"transform":[{"calculate":"datum.g=='HC'?1:2","as":"p"},{"calculate":"datum.p-0.3","as":"p1"},{"calculate":"datum.p+0.3","as":"p2"}],
    "mark":{"type":"rect","fill":"#e3e3e3","stroke":"#111","strokeWidth":1.5},
    "encoding":{
     "x":{"field":"p1","type":"quantitative","scale":{"domain":[0,2.38],"nice":false,"zero":false},"axis":{"title":null,"values":[1,2],"labelExpr":"datum.value==1?'HC':'SSc'","domainWidth":1.5,"ticks":false,"labelFontSize":10.5,"labelPadding":6}},
     "x2":{"field":"p2"},
     "y":{"field":"m","type":"quantitative","scale":{"domain":[0,4.13],"nice":false,"zero":false},"axis":{"title":["PD-1ʰⁱ CXCR5⁺","(% of mCD4 T cells)"],"values":[0,1,2,3,4],"titleFontSize":10.5,"labelFontSize":10,"tickSize":4,"domainWidth":1.2,"titlePadding":4,"titleLineHeight":13}},
     "y2":{"datum":0}}},
   {"data":{"name":"b2"},"transform":[{"window":[{"op":"row_number","as":"rn"}],"groupby":["g"]},{"calculate":"(datum.g=='HC'?1:2)+((datum.rn*0.618034)%1-0.5)*(datum.g=='HC'?0.62:0.72)","as":"xj"}],
    "mark":{"type":"circle","size":13,"color":"#111","opacity":1},"encoding":{"x":{"field":"xj","type":"quantitative"},"y":{"field":"v","type":"quantitative"}}},
   {"data":{"name":"b2s"},"transform":[{"calculate":"datum.g=='HC'?1:2","as":"p"},{"calculate":"datum.p-0.13","as":"c1"},{"calculate":"datum.p+0.13","as":"c2"}],
    "layer":[
     {"mark":{"type":"rule","color":"#111","strokeWidth":1.3},"encoding":{"x":{"field":"p","type":"quantitative"},"y":{"field":"m","type":"quantitative"},"y2":{"field":"hi"}}},
     {"mark":{"type":"rule","color":"#111","strokeWidth":1.3},"encoding":{"x":{"field":"c1","type":"quantitative"},"x2":{"field":"c2"},"y":{"field":"hi","type":"quantitative"}}}]},
   {"data":{"values":[{}]},
    "layer":[
     {"mark":{"type":"rule","color":"#333","strokeWidth":1.3},"encoding":{"x":{"datum":1.095},"x2":{"datum":2.33},"y":{"datum":4.09}}},
     {"mark":{"type":"text","text":"ns","fontSize":10.5},"encoding":{"x":{"datum":1.71},"y":{"datum":4.38}}},
     {"mark":{"type":"text","text":"PD-1ʰⁱ CXCR5⁺","fontSize":13},"encoding":{"x":{"datum":0.93},"y":{"datum":4.86}}}]}
  ]}
],"spacing":0,"bounds":"flush"},
{"hconcat":[
 {"width":85,"height":375.5,
  "layer":[
   {"data":{"name":"hm"},"transform":[{"filter":"datum.c=='p'"}],"mark":{"type":"rect","stroke":"#b0b0b0","strokeWidth":0.6},
    "encoding":{
     "x":{"field":"g","type":"nominal","scale":{"domain":["HC","SSc"],"paddingInner":0,"paddingOuter":0},"axis":null},
     "y":{"field":"m","type":"nominal","scale":{"domain":["h1","h2","h3","CD123","HLA-DR","Ki67","CD56","CRTH2","CCR5","CD57","CX3CR1","CCR6","CD127","CXCR6","GrzK","T-bet","CCR2","CD25","CD11c","CD45RO","ICOS","CCR10","TCRgd","CD38","PD-1","FoxP3","GrzB","CD73","GATA3","CXCR3","CD16","CD28","CCR7","CCR9","CD27","CXCR5","TIGIT"],"paddingInner":0,"paddingOuter":0},"axis":null},
     "color":{"field":"v","type":"quantitative","scale":{"type":"linear","domain":[-1.44,0,1.44],"range":["#0000ff","#ffffff","#ff0000"],"interpolate":"rgb"},"legend":null}}},
   {"data":{"name":"hm"},"transform":[{"filter":"datum.c=='p'&&datum.m=='CD123'"}],"mark":{"type":"text","fontSize":12.5},"encoding":{"x":{"field":"g","type":"nominal"},"y":{"datum":"h3"},"text":{"field":"g"}}},
   {"data":{"values":[{}]},
    "layer":[
     {"mark":{"type":"rule","strokeWidth":3.5,"color":"#000"},"encoding":{"y":{"datum":"h2"}}},
     {"mark":{"type":"text","text":"PD-1ʰⁱ CXCR5⁺","fontSize":12.5},"encoding":{"y":{"datum":"h1"}}},
     {"mark":{"type":"text","text":"C","fontSize":13,"dx":-39,"dy":-13.5},"encoding":{"x":{"datum":"HC"},"y":{"datum":"h1"}}}]}
  ]},
 {"width":3,"height":1,"data":{"values":[]},"mark":"point"},
 {"width":85,"height":375.5,
  "layer":[
   {"data":{"name":"hm"},"transform":[{"filter":"datum.c=='n'"}],"mark":{"type":"rect","stroke":"#b0b0b0","strokeWidth":0.6},
    "encoding":{
     "x":{"field":"g","type":"nominal","scale":{"domain":["HC","SSc"],"paddingInner":0,"paddingOuter":0},"axis":null},
     "y":{"field":"m","type":"nominal","scale":{"domain":["h1","h2","h3","CD123","HLA-DR","Ki67","CD56","CRTH2","CCR5","CD57","CX3CR1","CCR6","CD127","CXCR6","GrzK","T-bet","CCR2","CD25","CD11c","CD45RO","ICOS","CCR10","TCRgd","CD38","PD-1","FoxP3","GrzB","CD73","GATA3","CXCR3","CD16","CD28","CCR7","CCR9","CD27","CXCR5","TIGIT"],"paddingInner":0,"paddingOuter":0},
      "axis":{"orient":"right","title":null,"labelExpr":"indexof(['h1','h2','h3'],datum.value)>=0?'':datum.value","domain":false,"ticks":false,"labelPadding":3,"labelFontSize":9.5,"labelFontWeight":{"condition":{"test":"datum.value=='HLA-DR'||datum.value=='CD38'","value":"bold"},"value":"normal"}}},
     "color":{"field":"v","type":"quantitative","scale":{"type":"linear","domain":[-1.44,0,1.44],"range":["#0000ff","#ffffff","#ff0000"],"interpolate":"rgb"},
      "legend":{"orient":"none","legendX":134,"legendY":32.5,"title":null,"direction":"vertical","gradientLength":98,"gradientThickness":6,"values":[-1,-0.5,0,0.5,1],"labelFontSize":8,"labelOffset":4,"gradientStrokeWidth":0}}}},
   {"data":{"name":"hm"},"transform":[{"filter":"datum.c=='n'&&datum.m=='CD123'"}],"mark":{"type":"text","fontSize":12.5},"encoding":{"x":{"field":"g","type":"nominal"},"y":{"datum":"h3"},"text":{"field":"g"}}},
   {"data":{"name":"hm"},"transform":[{"filter":"datum.s"}],"mark":{"type":"text","fontSize":13,"dy":3},"encoding":{"x":{"field":"g","type":"nominal"},"y":{"field":"m","type":"nominal"},"text":{"field":"s"}}},
   {"data":{"values":[{}]},
    "layer":[
     {"mark":{"type":"rule","strokeWidth":3.5,"color":"#3b5bd6"},"encoding":{"y":{"datum":"h2"}}},
     {"mark":{"type":"text","text":"PD-1ʰⁱ CXCR5⁻","fontSize":12.5,"color":"#3b5bd6"},"encoding":{"y":{"datum":"h1"}}}]}
  ]},
 {"width":115,"height":1,"data":{"values":[]},"mark":"point"},
 {"width":169,"height":184.5,
  "layer":[
   {"data":{"name":"d1s"},"transform":[{"calculate":"(datum.c=='n'?0:2)+(datum.g=='HC'?1:2)","as":"p"},{"calculate":"datum.p-0.33","as":"p1"},{"calculate":"datum.p+0.33","as":"p2"}],
    "mark":{"type":"rect","stroke":"#111","strokeWidth":1.5},
    "encoding":{
     "x":{"field":"p1","type":"quantitative","scale":{"domain":[0.24,4.69],"nice":false,"zero":false},"axis":{"title":null,"values":[1,2,3,4],"labelExpr":"datum.value%2==1?'HC':'SSc'","domainWidth":1.5,"ticks":false,"labelFontSize":13,"labelPadding":5}},
     "x2":{"field":"p2"},
     "y":{"field":"m","type":"quantitative","scale":{"domain":[0,33.35],"nice":false,"zero":false},"axis":{"title":"Mean Expression","values":[0,10,20,30],"domain":false,"tickSize":6,"tickWidth":1.5,"labelFontSize":13,"titleFontSize":13,"titlePadding":6}},
     "y2":{"datum":0},
     "fill":{"condition":{"test":"datum.c=='n'","value":"#9fc9f3"},"value":"#e2e2e2"}}},
   {"data":{"name":"d1"},"transform":[{"window":[{"op":"row_number","as":"rn"}],"groupby":["c","g"]},{"calculate":"(datum.c=='n'?0:2)+(datum.g=='HC'?1:2)+((datum.rn*0.618034)%1-0.5)*0.64","as":"xj"}],
    "mark":{"type":"circle","size":11,"color":"#111","opacity":1},"encoding":{"x":{"field":"xj","type":"quantitative"},"y":{"field":"v","type":"quantitative"}}},
   {"data":{"name":"d1s"},"transform":[{"calculate":"(datum.c=='n'?0:2)+(datum.g=='HC'?1:2)","as":"p"},{"calculate":"datum.p-0.12","as":"c1"},{"calculate":"datum.p+0.12","as":"c2"}],
    "layer":[
     {"mark":{"type":"rule","color":"#111","strokeWidth":1.3},"encoding":{"x":{"field":"p","type":"quantitative"},"y":{"field":"m","type":"quantitative"},"y2":{"field":"hi"}}},
     {"mark":{"type":"rule","color":"#111","strokeWidth":1.3},"encoding":{"x":{"field":"c1","type":"quantitative"},"x2":{"field":"c2"},"y":{"field":"hi","type":"quantitative"}}}]},
   {"data":{"values":[{}]},
    "layer":[
     {"mark":{"type":"rule","color":"#111","strokeWidth":1.5},"encoding":{"x":{"value":0},"y":{"datum":0},"y2":{"datum":30}}},
     {"mark":{"type":"rule","color":"#111","strokeWidth":1.5},"encoding":{"x":{"datum":0.74},"x2":{"datum":2.27},"y":{"datum":29.7}}},
     {"mark":{"type":"rule","color":"#111","strokeWidth":1.5},"encoding":{"x":{"datum":2.66},"x2":{"datum":4.24},"y":{"datum":29.7}}},
     {"mark":{"type":"text","text":"✱","fontSize":16,"fontWeight":"bold"},"encoding":{"x":{"datum":1.48},"y":{"datum":31.3}}},
     {"mark":{"type":"text","text":"ns","fontSize":12.5},"encoding":{"x":{"datum":3.45},"y":{"datum":31.6}}},
     {"mark":{"type":"text","text":"CD38","fontSize":13},"encoding":{"x":{"datum":2.4},"y":{"datum":34.4}}},
     {"mark":{"type":"text","text":"D","fontSize":13},"encoding":{"x":{"datum":-0.31},"y":{"datum":34.2}}},
     {"mark":{"type":"rule","color":"#3b5bd6","strokeWidth":1},"encoding":{"x":{"datum":0.5},"x2":{"datum":2.31},"y":{"datum":-5.24}}},
     {"mark":{"type":"rule","color":"#333","strokeWidth":1},"encoding":{"x":{"datum":2.74},"x2":{"datum":4.56},"y":{"datum":-5.24}}},
     {"mark":{"type":"text","text":"PD-1ʰⁱ CXCR5⁻","fontSize":12.5,"color":"#3b5bd6"},"encoding":{"x":{"datum":1.135},"y":{"datum":-6.5}}},
     {"mark":{"type":"text","text":"PD-1hi CXCR5+","fontSize":12.5},"encoding":{"x":{"datum":3.95},"y":{"datum":-6.5}}}]}
  ]},
 {"width":38,"height":1,"data":{"values":[]},"mark":"point"},
 {"width":180,"height":184.5,
  "layer":[
   {"data":{"name":"d2s"},"transform":[{"calculate":"(datum.c=='n'?0:2)+(datum.g=='HC'?1:2)","as":"p"},{"calculate":"datum.p-0.34","as":"p1"},{"calculate":"datum.p+0.34","as":"p2"}],
    "mark":{"type":"rect","stroke":"#111","strokeWidth":1.5},
    "encoding":{
     "x":{"field":"p1","type":"quantitative","scale":{"domain":[0.29,4.71],"nice":false,"zero":false},"axis":{"title":null,"values":[1,2,3,4],"labelExpr":"datum.value%2==1?'HC':'SSc'","domainWidth":1.5,"ticks":false,"labelFontSize":13,"labelPadding":5}},
     "x2":{"field":"p2"},
     "y":{"field":"m","type":"quantitative","scale":{"type":"linear","domain":[0,20,30,50],"range":[184.5,75.5,56.5,18.5],"nice":false,"zero":false},"axis":{"title":"Mean Expression","values":[0,5,10,15,20,30,40,50],"domain":false,"tickSize":6,"tickWidth":1.5,"labelFontSize":13,"titleFontSize":13,"titlePadding":6}},
     "y2":{"datum":0},
     "fill":{"condition":{"test":"datum.c=='n'","value":"#9fc9f3"},"value":"#cfcfcf"}}},
   {"data":{"name":"d2"},"transform":[{"window":[{"op":"row_number","as":"rn"}],"groupby":["c","g"]},{"calculate":"(datum.c=='n'?0:2)+(datum.g=='HC'?1:2)+((datum.rn*0.618034)%1-0.5)*0.64","as":"xj"}],
    "mark":{"type":"circle","size":11,"color":"#111","opacity":1},"encoding":{"x":{"field":"xj","type":"quantitative"},"y":{"field":"v","type":"quantitative"}}},
   {"data":{"name":"d2s"},"transform":[{"calculate":"(datum.c=='n'?0:2)+(datum.g=='HC'?1:2)","as":"p"},{"calculate":"datum.p-0.12","as":"c1"},{"calculate":"datum.p+0.12","as":"c2"}],
    "layer":[
     {"mark":{"type":"rule","color":"#111","strokeWidth":1.3},"encoding":{"x":{"field":"p","type":"quantitative"},"y":{"field":"m","type":"quantitative"},"y2":{"field":"hi"}}},
     {"mark":{"type":"rule","color":"#111","strokeWidth":1.3},"encoding":{"x":{"field":"c1","type":"quantitative"},"x2":{"field":"c2"},"y":{"field":"hi","type":"quantitative"}}}]},
   {"data":{"values":[{}]},
    "layer":[
     {"mark":{"type":"rule","color":"#111","strokeWidth":1.5},"encoding":{"x":{"value":0},"y":{"datum":0},"y2":{"datum":20}}},
     {"mark":{"type":"rule","color":"#111","strokeWidth":1.5},"encoding":{"x":{"value":0},"y":{"datum":23},"y2":{"datum":50}}},
     {"mark":{"type":"rule","color":"#111","strokeWidth":1.5},"encoding":{"x":{"value":-5},"x2":{"value":0},"y":{"datum":23}}},
     {"mark":{"type":"rule","color":"#111","strokeWidth":1.5},"encoding":{"x":{"datum":0.855},"x2":{"datum":2.13},"y":{"datum":50.5}}},
     {"mark":{"type":"rule","color":"#111","strokeWidth":1.5},"encoding":{"x":{"datum":2.94},"x2":{"datum":4.22},"y":{"datum":50.5}}},
     {"mark":{"type":"text","text":"✱","fontSize":16,"fontWeight":"bold"},"encoding":{"x":{"datum":1.49},"y":{"datum":54.7}}},
     {"mark":{"type":"text","text":"ns","fontSize":12.5},"encoding":{"x":{"datum":3.56},"y":{"datum":55.8}}},
     {"mark":{"type":"text","text":"HLA-DR","fontSize":13},"encoding":{"x":{"datum":2.5},"y":{"datum":62.6}}},
     {"mark":{"type":"rule","color":"#3b5bd6","strokeWidth":1},"encoding":{"x":{"datum":0.46},"x2":{"datum":2.13},"y":{"datum":-5.32}}},
     {"mark":{"type":"rule","color":"#333","strokeWidth":1},"encoding":{"x":{"datum":2.87},"x2":{"datum":4.54},"y":{"datum":-5.32}}},
     {"mark":{"type":"text","text":"PD-1ʰⁱ CXCR5⁻","fontSize":12.5,"color":"#3b5bd6"},"encoding":{"x":{"datum":1.3},"y":{"datum":-6.6}}},
     {"mark":{"type":"text","text":"PD-1hi CXCR5+","fontSize":12.5},"encoding":{"x":{"datum":3.61},"y":{"datum":-6.6}}}]}
  ]}
],"spacing":0,"bounds":"flush","resolve":{"scale":{"color":"independent"},"legend":{"color":"independent"}}}
]
}
